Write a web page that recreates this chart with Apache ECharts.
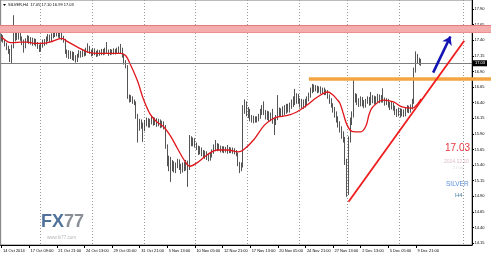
<!DOCTYPE html>
<html><head><meta charset="utf-8">
<script src="https://cdn.jsdelivr.net/npm/echarts@6/dist/echarts.min.js"></script>
<style>html,body{margin:0;padding:0;background:#fff}#c{width:491px;height:257px}</style>
</head><body><div id="c"></div>
<script>
// ---- data ----
const xTickLabels = ["14 Oct 2014","17 Oct 09:00","21 Oct 21:00","24 Oct 13:00","29 Oct 05:00","31 Oct 21:00","5 Nov 13:00","10 Nov 05:00","12 Nov 21:00","17 Nov 13:00","20 Nov 05:00","24 Nov 21:00","27 Nov 13:00","2 Dec 13:00","5 Dec 05:00","9 Dec 21:00"];
const yTicks = [14.15,14.40,14.65,14.90,15.15,15.40,15.65,15.90,16.15,16.40,16.65,16.90,17.15,17.40,17.65,17.90];

const opens = [
17.42,17.45,17.40,17.33,17.28,17.22,17.08,17.30,17.42,17.48,
17.44,17.50,17.43,17.38,17.30,17.40,17.44,17.38,17.42,17.36,
17.40,17.34,17.30,17.26,17.32,17.38,17.35,17.42,17.46,17.40,
17.47,17.52,17.50,17.55,17.48,17.50,17.44,17.40,17.22,17.16,
17.20,17.14,17.18,17.12,17.08,17.15,17.20,17.16,17.22,17.18,
17.24,17.28,17.22,17.18,17.24,17.20,17.17,17.22,17.19,17.23,
17.20,17.24,17.22,17.19,17.23,17.20,17.24,17.21,17.25,17.22,
17.26,17.15,17.05,16.98,16.50,16.45,16.48,16.42,16.40,16.18,
16.02,16.10,16.04,15.99,16.08,16.12,16.05,16.10,16.14,16.08,
16.12,16.06,16.10,16.04,16.08,16.02,15.70,15.45,15.50,15.36,
15.42,15.34,15.40,15.46,15.38,15.33,15.40,15.36,15.42,15.35,
15.82,15.76,15.80,15.72,15.68,15.62,15.66,15.60,15.56,15.60,
15.55,15.50,15.56,15.62,15.70,15.66,15.72,15.68,15.64,15.67,
15.63,15.66,15.62,15.66,15.63,15.65,15.61,15.58,15.42,15.36,
15.40,16.30,16.38,16.24,16.28,16.16,16.12,16.16,16.12,16.15,
16.18,16.26,16.32,16.25,16.18,16.22,16.16,16.20,16.12,16.08,
16.16,16.22,16.28,16.22,16.30,16.26,16.33,16.28,16.34,16.38,
16.46,16.42,16.50,16.44,16.38,16.42,16.36,16.42,16.46,16.52,
16.60,16.66,16.62,16.65,16.60,16.63,16.58,16.62,16.56,16.58,
16.50,16.44,16.36,16.30,16.22,16.14,16.06,15.98,15.90,15.82,
15.45,14.95,15.80,16.10,16.20,16.46,16.50,16.42,16.38,16.45,
16.40,16.36,16.42,16.46,16.40,16.44,16.48,16.42,16.46,16.50,
16.44,16.48,16.45,16.40,16.44,16.38,16.34,16.38,16.32,16.26,
16.22,16.28,16.22,16.26,16.21,16.28,16.32,16.27,16.33,16.42,
16.92,17.15,17.08,17.05];
const closes = [
17.45,17.40,17.33,17.28,17.22,17.08,17.30,17.42,17.48,17.44,
17.50,17.43,17.38,17.30,17.40,17.44,17.38,17.42,17.36,17.40,
17.34,17.30,17.26,17.32,17.38,17.35,17.42,17.46,17.40,17.47,
17.52,17.50,17.55,17.48,17.50,17.44,17.40,17.22,17.16,17.20,
17.14,17.18,17.12,17.08,17.15,17.20,17.16,17.22,17.18,17.24,
17.28,17.22,17.18,17.24,17.20,17.17,17.22,17.19,17.23,17.20,
17.24,17.22,17.19,17.23,17.20,17.24,17.21,17.25,17.22,17.26,
17.15,17.05,16.98,16.50,16.45,16.48,16.42,16.40,16.18,16.02,
16.10,16.04,15.99,16.08,16.12,16.05,16.10,16.14,16.08,16.12,
16.06,16.10,16.04,16.08,16.02,15.70,15.45,15.50,15.36,15.42,
15.34,15.40,15.46,15.38,15.33,15.40,15.36,15.42,15.35,15.82,
15.76,15.80,15.72,15.68,15.62,15.66,15.60,15.56,15.60,15.55,
15.50,15.56,15.62,15.70,15.66,15.72,15.68,15.64,15.67,15.63,
15.66,15.62,15.66,15.63,15.65,15.61,15.58,15.42,15.36,15.40,
16.30,16.38,16.24,16.28,16.16,16.12,16.16,16.12,16.15,16.18,
16.26,16.32,16.25,16.18,16.22,16.16,16.20,16.12,16.08,16.16,
16.22,16.28,16.22,16.30,16.26,16.33,16.28,16.34,16.38,16.46,
16.42,16.50,16.44,16.38,16.42,16.36,16.42,16.46,16.52,16.60,
16.66,16.62,16.65,16.60,16.63,16.58,16.62,16.56,16.58,16.50,
16.44,16.36,16.30,16.22,16.14,16.06,15.98,15.90,15.82,15.45,
14.95,15.80,16.10,16.20,16.46,16.50,16.42,16.38,16.45,16.40,
16.36,16.42,16.46,16.40,16.44,16.48,16.42,16.46,16.50,16.44,
16.48,16.45,16.40,16.44,16.38,16.34,16.38,16.32,16.26,16.22,
16.28,16.22,16.26,16.21,16.28,16.32,16.27,16.33,16.42,16.92,
17.15,17.08,17.05,17.03];
const lows = [
17.38,17.36,17.30,17.24,17.18,17.05,17.03,17.27,17.38,17.40,
17.41,17.39,17.32,17.20,17.27,17.36,17.34,17.33,17.31,17.32,
17.30,17.26,17.21,17.22,17.28,17.31,17.33,17.38,17.36,17.38,
17.43,17.45,17.46,17.44,17.42,17.40,17.36,17.18,17.12,17.10,
17.10,17.08,17.07,17.04,17.05,17.12,17.12,17.13,17.14,17.15,
17.20,17.18,17.14,17.15,17.16,17.13,17.14,17.15,17.16,17.16,
17.17,17.18,17.15,17.16,17.17,17.17,17.17,17.18,17.18,17.19,
17.12,17.01,16.95,16.46,16.40,16.41,16.38,16.36,16.14,15.76,
15.95,15.98,15.77,15.94,16.02,16.00,16.00,16.05,16.03,16.04,
16.01,16.02,15.99,16.00,15.97,15.66,15.38,15.30,15.13,15.30,
15.28,15.27,15.35,15.32,15.26,15.28,15.30,15.31,15.05,15.32,
15.70,15.70,15.68,15.64,15.56,15.57,15.54,15.52,15.50,15.48,
15.46,15.47,15.52,15.58,15.62,15.62,15.63,15.60,15.60,15.59,
15.60,15.58,15.59,15.59,15.58,15.57,15.54,15.38,15.27,15.30,
15.36,16.22,16.18,16.15,16.10,16.08,16.07,16.08,16.08,16.10,
16.14,16.20,16.20,16.13,16.12,16.10,16.10,16.06,15.88,16.04,
16.12,16.18,16.17,16.18,16.20,16.22,16.24,16.24,16.30,16.33,
16.36,16.38,16.38,16.32,16.30,16.30,16.32,16.36,16.42,16.48,
16.55,16.57,16.58,16.55,16.56,16.54,16.54,16.52,16.52,16.46,
16.38,16.32,16.24,16.16,16.08,16.00,15.92,15.82,15.76,15.40,
14.89,14.92,15.76,16.04,16.16,16.40,16.36,16.33,16.34,16.34,
16.31,16.32,16.38,16.35,16.36,16.39,16.37,16.38,16.41,16.39,
16.40,16.40,16.35,16.36,16.32,16.28,16.29,16.27,16.20,16.17,
16.18,16.16,16.18,16.17,16.18,16.24,16.23,16.24,16.29,16.38,
16.88,17.02,17.00,16.99];
const highs = [
17.50,17.48,17.42,17.36,17.31,17.26,17.33,17.80,17.53,17.52,
17.54,17.52,17.46,17.41,17.43,17.48,17.47,17.45,17.44,17.43,
17.42,17.37,17.33,17.35,17.41,17.42,17.46,17.50,17.49,17.51,
17.56,17.64,17.60,17.58,17.53,17.52,17.47,17.42,17.25,17.24,
17.23,17.22,17.21,17.16,17.18,17.24,17.23,17.26,17.25,17.28,
17.35,17.31,17.25,17.27,17.27,17.23,17.25,17.24,17.26,17.26,
17.28,17.37,17.25,17.26,17.25,17.27,17.26,17.28,17.30,17.34,
17.28,17.18,17.08,17.00,16.53,16.52,16.50,16.45,16.42,16.22,
16.14,16.13,16.08,16.12,16.16,16.15,16.14,16.18,16.17,16.16,
16.15,16.14,16.13,16.11,16.10,16.04,15.73,15.55,15.53,15.48,
15.46,15.44,15.50,15.49,15.42,15.44,15.45,15.48,15.47,15.88,
15.86,15.84,15.83,15.76,15.71,15.70,15.68,15.64,15.63,15.62,
15.58,15.60,15.65,15.73,15.80,15.75,15.74,15.71,15.70,15.70,
15.69,15.72,15.69,15.68,15.68,15.67,15.64,15.60,15.45,15.44,
16.36,16.45,16.42,16.33,16.30,16.20,16.19,16.18,16.18,16.22,
16.30,16.36,16.42,16.28,16.27,16.26,16.24,16.30,16.16,16.20,
16.52,16.32,16.31,16.34,16.36,16.38,16.38,16.40,16.45,16.50,
16.62,16.55,16.54,16.47,16.46,16.45,16.46,16.50,16.56,16.64,
16.70,16.69,16.68,16.67,16.66,16.66,16.64,16.64,16.61,16.60,
16.53,16.47,16.39,16.33,16.26,16.18,16.10,16.02,15.94,15.85,
15.50,15.86,16.16,16.26,16.78,16.55,16.54,16.47,16.50,16.49,
16.44,16.46,16.50,16.49,16.57,16.52,16.51,16.50,16.54,16.53,
16.52,16.63,16.48,16.47,16.46,16.41,16.42,16.40,16.35,16.30,
16.32,16.31,16.30,16.29,16.32,16.36,16.35,16.37,16.46,16.96,
17.22,17.18,17.12,17.10];

// red moving average, read at sample bars
const maIdx = [0,4,7,11,15,19,23,28,35,38,44,50,56,63,69,72,75,79,82,86,90,94,98,102,106,109,113,119,125,131,137,140,146,152,156,160,165,171,177,183,189,192,194,196,198,200,203,208,211,213,215,221,227,232,238,241,243];
const maVal = [17.45,17.37,17.36,17.37,17.37,17.35,17.35,17.37,17.43,17.38,17.29,17.21,17.19,17.19,17.19,17.15,16.99,16.73,16.47,16.22,16.09,16.01,15.86,15.66,15.47,15.38,15.43,15.56,15.64,15.64,15.61,15.64,15.80,16.03,16.12,16.17,16.19,16.25,16.36,16.49,16.57,16.52,16.46,16.39,16.22,16.05,15.94,15.93,16.02,16.22,16.33,16.44,16.41,16.33,16.31,16.38,16.46];

const currentPrice = 17.03;
const resistanceTop = 17.635, resistanceMid = 17.58, resistanceBottom = 17.525;
const supportLevel = 16.783, supportStartBar = 178;
const trendFrom = [201, 14.81], trendTo = [268, 17.39];
const arrowFrom = [250, 16.88], arrowTo = [260, 17.46];
const weekGridBars = [23,53,83,113,143,173,201,231,268];
const SLOTS = 273;
const header = "SILVER,H4  17.05 17.10 16.99 17.03";

// ---- build ----
const cats = Array.from({length: SLOTS}, (_, i) => String(i));
const candles = opens.map((o, i) => [o, closes[i], lows[i], highs[i]]);
const maData = new Array(SLOTS).fill(null);
maIdx.forEach((ix, k) => { maData[ix] = maVal[k]; });
const isLabel = (i) => i % 16 === 0 && i / 16 < xTickLabels.length;
const FONT = 'Liberation Sans, Arial, DejaVu Sans, sans-serif';

const chart = echarts.init(document.getElementById('c'), null, {renderer: 'canvas'});
chart.setOption({
  animation: false,
  backgroundColor: '#fff',
  grid: {left: 0, right: 19, top: 0, bottom: 12, show: true, borderColor: '#7a7a7a', borderWidth: 1},
  xAxis: {
    type: 'category', data: cats, boundaryGap: true,
    axisLine: {show: true, lineStyle: {color: '#000', width: 1}},
    axisTick: {show: true, interval: (i) => isLabel(i), alignWithLabel: true, length: 3, lineStyle: {color: '#000'}},
    axisLabel: {interval: (i) => isLabel(i), formatter: (v, i) => xTickLabels[i / 16] || '', align: 'left', padding: [0, 0, 0, 1.5],
      fontSize: 4, color: '#000', margin: 4, fontFamily: FONT},
    splitLine: {show: true, interval: (i) => weekGridBars.includes(i), lineStyle: {color: '#9a9a9a', type: [1, 2], width: 1}}
  },
  yAxis: {
    type: 'value', position: 'right', min: 14.118, max: 18.044, scale: true,
    axisLine: {show: true, lineStyle: {color: '#000', width: 1}},
    axisTick: {show: true, customValues: yTicks, length: 2, lineStyle: {color: '#000'}},
    axisLabel: {customValues: yTicks, formatter: (v) => v.toFixed(2), fontSize: 4, color: '#000', margin: 2.5, fontFamily: FONT},
    splitLine: {show: false}
  },
  series: [
    {
      type: 'line', data: [], z: 1, clip: false, silent: true,
      markLine: {
        silent: true, symbol: 'none', animation: false,
        label: {show: false}, emphasis: {disabled: true},
        data: [
          [{x: 0, yAxis: resistanceMid, lineStyle: {color: '#f3adad', width: 6, type: 'solid'}}, {x: '100%', yAxis: resistanceMid}],
          [{x: 0, yAxis: resistanceTop, lineStyle: {color: '#e57a7a', width: 1, type: 'solid'}}, {x: '100%', yAxis: resistanceTop}],
          [{x: 0, yAxis: resistanceBottom, lineStyle: {color: '#ec9090', width: 1, type: 'solid'}}, {x: '100%', yAxis: resistanceBottom}],
          [{xAxis: supportStartBar, yAxis: supportLevel, lineStyle: {color: '#f5a443', width: 3.5, type: 'solid'}}, {x: '100%', yAxis: supportLevel}],
          {yAxis: currentPrice, lineStyle: {color: '#7f7f7f', width: 1, type: 'solid'},
           label: {show: true, position: 'end', distance: 1, formatter: currentPrice.toFixed(2), color: '#fff', backgroundColor: '#000',
                   fontSize: 4, padding: [1, 2, 1, 2], fontFamily: FONT}}
        ]
      }
    },
    {
      type: 'candlestick', data: candles, z: 3, barWidth: 1.3, silent: true,
      itemStyle: {color: '#ffffff', color0: '#000000', borderColor: '#2a2a2a', borderColor0: '#2a2a2a', borderWidth: 0.8}
    },
    {
      type: 'line', data: maData, connectNulls: true, showSymbol: false, smooth: 0.35, z: 4, silent: true,
      lineStyle: {color: '#e0161c', width: 1.3}
    },
    {
      type: 'line', data: [], z: 5, clip: false, silent: true,
      markLine: {
        silent: true, animation: false, label: {show: false}, emphasis: {disabled: true},
        data: [
          [{coord: trendFrom, symbol: 'none', lineStyle: {color: '#ee1c1c', width: 1.8, type: 'solid'}}, {coord: trendTo, symbol: 'none'}],
          [{coord: arrowFrom, symbol: 'none', lineStyle: {color: '#1414b4', width: 2.6, type: 'solid'}}, {coord: arrowTo, symbol: 'arrow', symbolSize: 8}]
        ]
      }
    }
  ],
  graphic: [
    {type: 'polygon', shape: {points: [[3, 4], [6, 4], [4.5, 6]]}, style: {fill: '#000'}, silent: true},
    {type: 'text', left: 8, top: 3, silent: true, style: {text: header, font: '4px ' + FONT, fill: '#000'}},
    {type: 'text', left: 445, top: 143, silent: true, style: {text: '17.03', font: '10px ' + FONT, fill: '#e8343c'}},
    {type: 'text', left: 444, top: 159, silent: true, style: {text: '2014.12.10', font: '5px ' + FONT, fill: '#dcbcc6'}},
    {type: 'text', left: 453, top: 166, silent: true, style: {text: '21:00', font: '4px ' + FONT, fill: '#dcdcdc'}},
    {type: 'text', left: 446, top: 181, silent: true, style: {text: 'SILVER', font: '6.5px ' + FONT, fill: '#5b8ed8'}},
    {type: 'text', left: 455, top: 192, silent: true, style: {text: 'H4', font: '6px ' + FONT, fill: '#4d7fa3'}},
    {type: 'text', left: 41, top: 213, silent: true, style: {text: '{a|FX}{b|77}', font: 'bold 18px ' + FONT,
      rich: {a: {fill: '#50729a', font: 'bold 18px ' + FONT}, b: {fill: '#8a8f96', font: 'bold 18px ' + FONT}}}},
    {type: 'text', left: 47, top: 235, silent: true, style: {text: 'www.fx77.com', font: '4.5px ' + FONT, fill: '#b4b4b4'}}
  ]
});
</script></body></html>
